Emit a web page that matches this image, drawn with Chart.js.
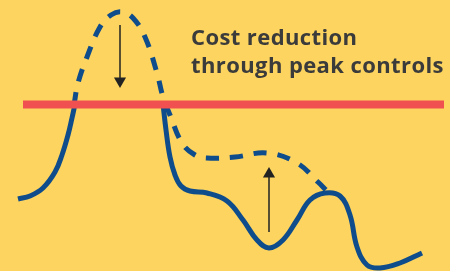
<!DOCTYPE html>
<html>
<head>
<meta charset="utf-8">
<script src="https://cdn.jsdelivr.net/npm/chart.js@4/dist/chart.umd.min.js"></script>
<style>
  html, body { margin: 0; padding: 0; background: #FCD45F; }
  canvas { display: block; }
</style>
</head>
<body>
<canvas id="c" width="450" height="271"></canvas>
<script>
// Time (0-450) and load (0-271)
const actualTime = [18, 30, 43, 55, 62, 68, 72, 75, null, 163, 166, 170, 175, 181, 190, 207, 227, 243, 257, 269, 283, 297, 310, 325, 340, 350, 357, 367, 380, 400, 422];
const actualLoad = [72, 75, 83, 99, 116, 136, 153, 167, null, 167, 141, 114, 96, 85, 80, 78, 70, 51, 31, 23, 31, 51, 71, 78, 75, 56, 24, 6, 3, 8, 18];

const uncontrolledTime = [74, 78, 87, 100, 111, 122, 133, 145, 157, 163, 170, 182, 195, 207, 235, 267, 297, 318, 327];
const uncontrolledLoad = [166, 188, 214, 244, 256, 259, 253, 234, 198, 174, 156, 128, 116, 113, 114, 118, 108, 89, 80];

const peakLimit = 166.5;
const limitSpan = [23, 444];

// Arrows: [time, fromLoad, toLoad]
const arrowDown = [120, 246, 190];
const arrowUp = [269, 39, 97];

const titleLines = ["Cost reduction", "through peak controls"];

const toPts = (xs, ys) => xs.map((x, i) => (x === null ? { x: null, y: null } : { x: x, y: ys[i] }));

const blue = '#0E4C8C';
const arrowColor = '#222222';

const textPlugin = {
  id: 'caption',
  afterDatasetsDraw(chart) {
    const ctx = chart.ctx;
    ctx.save();
    ctx.fillStyle = '#3B3B3B';
    ctx.font = 'bold 22px "Open Sans", sans-serif';
    try { ctx.letterSpacing = '0.4px'; } catch (e) {}
    ctx.textBaseline = 'alphabetic';
    ctx.textAlign = 'left';
    ctx.fillText(titleLines[0], 191, 45);
    ctx.fillText(titleLines[1], 191, 73);
    ctx.restore();
  }
};

const bgPlugin = {
  id: 'bg',
  beforeDraw(chart) {
    const ctx = chart.ctx;
    ctx.save();
    ctx.fillStyle = '#FCD45F';
    ctx.fillRect(0, 0, chart.width, chart.height);
    ctx.restore();
  }
};

new Chart(document.getElementById('c'), {
  type: 'line',
  data: {
    datasets: [
      {
        label: 'Peak limit',
        data: [{ x: limitSpan[0], y: peakLimit }, { x: limitSpan[1], y: peakLimit }],
        borderColor: '#F05050',
        borderWidth: 8,
        borderCapStyle: 'butt',
        pointRadius: 0,
        tension: 0,
        order: 0
      },
      {
        label: 'Arrow down',
        data: [{ x: arrowDown[0], y: arrowDown[1] }, { x: arrowDown[0], y: arrowDown[2] }],
        borderColor: arrowColor,
        borderWidth: 1.5,
        pointRadius: [0, 7],
        pointStyle: 'triangle',
        rotation: 180,
        pointBackgroundColor: arrowColor,
        pointBorderColor: arrowColor,
        pointBorderWidth: 0,
        order: 1
      },
      {
        label: 'Arrow up',
        data: [{ x: arrowUp[0], y: arrowUp[1] }, { x: arrowUp[0], y: arrowUp[2] }],
        borderColor: arrowColor,
        borderWidth: 1.5,
        pointRadius: [0, 7],
        pointStyle: 'triangle',
        rotation: 0,
        pointBackgroundColor: arrowColor,
        pointBorderColor: arrowColor,
        pointBorderWidth: 0,
        order: 1
      },
      {
        label: 'Uncontrolled',
        data: toPts(uncontrolledTime, uncontrolledLoad),
        borderColor: blue,
        borderWidth: 5,
        borderDash: [13, 11],
        borderCapStyle: 'butt',
        pointRadius: 0,
        tension: 0.4,
        order: 2
      },
      {
        label: 'Controlled',
        data: toPts(actualTime, actualLoad),
        borderColor: blue,
        borderWidth: 5,
        pointRadius: 0,
        tension: 0.4,
        spanGaps: false,
        order: 3
      }
    ]
  },
  options: {
    responsive: false,
    animation: false,
    layout: { padding: 0, autoPadding: false },
    clip: false,
    plugins: { legend: { display: false }, tooltip: { enabled: false }, title: { display: false } },
    scales: {
      x: { type: 'linear', min: 0, max: 450, display: false },
      y: { type: 'linear', min: 0, max: 271, display: false }
    }
  },
  plugins: [bgPlugin, textPlugin]
});
</script>
</body>
</html>
